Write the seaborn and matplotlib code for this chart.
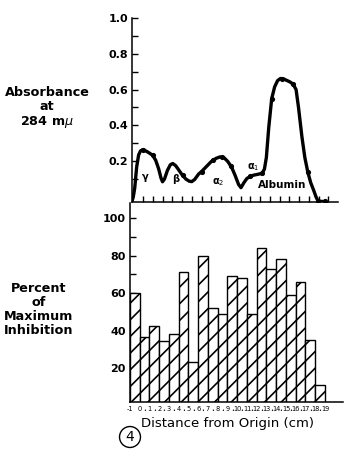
import numpy as np
import pandas as pd
import matplotlib
matplotlib.use("Agg")
import matplotlib.pyplot as plt
import seaborn as sns

# ---------------- data ----------------
abs_x = [-1.15, -1.0, -0.85, -0.65, -0.45, -0.25, 0.0, 0.4, 0.75, 1.0, 1.3, 1.6, 1.85, 2.0,
         2.2, 2.5, 2.8, 3.05, 3.35, 3.65, 4.0, 4.4, 4.75, 5.0, 5.3, 5.7, 6.0, 6.5, 7.0, 7.5,
         7.9, 8.3, 8.7, 9.1, 9.45, 9.8, 10.05, 10.35, 10.65, 11.0, 11.35, 11.8, 12.2, 12.45,
         12.65, 12.9, 13.2, 13.5, 13.8, 14.1, 14.4, 14.8, 15.1, 15.4, 15.7, 15.95, 16.3, 16.6,
         16.9, 17.2, 17.5, 17.75, 17.95, 18.3, 18.7]
abs_y = [-0.028, 0.0, 0.05, 0.168, 0.235, 0.258, 0.265, 0.254, 0.242, 0.232, 0.205, 0.158,
         0.105, 0.085, 0.1, 0.148, 0.18, 0.187, 0.175, 0.152, 0.125, 0.1, 0.088, 0.086, 0.098,
         0.128, 0.142, 0.17, 0.198, 0.216, 0.224, 0.22, 0.198, 0.165, 0.12, 0.07, 0.052, 0.08,
         0.103, 0.115, 0.122, 0.127, 0.132, 0.155, 0.22, 0.39, 0.55, 0.615, 0.65, 0.662, 0.66,
         0.65, 0.642, 0.63, 0.6, 0.5, 0.336, 0.22, 0.14, 0.08, 0.038, 0.0, -0.022, -0.025, -0.025]

mark_x = [0.0, 1.0, 4.05, 6.0, 7.2, 8.1, 9.0, 11.0, 12.2, 13.2, 14.3, 15.4, 16.9, 17.9, 18.7]
mark_y = [0.265, 0.232, 0.124, 0.142, 0.205, 0.224, 0.175, 0.115, 0.132, 0.55, 0.66, 0.63, 0.14, -0.02, -0.025]

peak_labels = ["γ", "β", "α$_2$", "α$_1$", "Albumin"]
peak_x = [0.25, 3.4, 7.75, 11.3, 14.3]
peak_y = [0.11, 0.1, 0.085, 0.165, 0.065]

bar_left = list(range(-1, 19))
inhibition = [60, 36.5, 42.5, 34.5, 38, 71, 23, 79.5, 52, 49, 69, 68, 49, 84, 73, 78, 59, 66, 35, 11]

top_ticks = list(range(0, 20))
bottom_ticks = list(range(-1, 20))

# ---------------- style ----------------
sns.set_style("ticks", {"axes.edgecolor": "black", "text.color": "black",
                        "xtick.color": "black", "ytick.color": "black",
                        "axes.labelcolor": "black"})
plt.rcParams["font.family"] = ["DejaVu Sans"]
plt.rcParams["hatch.linewidth"] = 1.2
plt.rcParams["axes.linewidth"] = 1.1

W, H = 344, 462
fig = plt.figure(figsize=(W / 100, H / 100), dpi=100)
fig.patch.set_facecolor("white")

ax1 = fig.add_axes([132 / W, 1 - 202 / H, 206 / W, 184 / H])
ax2 = fig.add_axes([130 / W, 1 - 402 / H, 213 / W, 199 / H])

# ---------------- top: absorbance ----------------
df_curve = pd.DataFrame({"x": abs_x, "y": abs_y})
sns.lineplot(data=df_curve, x="x", y="y", ax=ax1, color="black", lw=2.4, sort=False,
             estimator=None)
df_mark = pd.DataFrame({"x": mark_x, "y": mark_y})
sns.scatterplot(data=df_mark, x="x", y="y", ax=ax1, color="black", s=14, edgecolor="black",
                linewidth=0, zorder=5, clip_on=False)

for lab, px, py in zip(peak_labels, peak_x, peak_y):
    ax1.text(px, py, lab, ha="center", va="center", fontsize=7.5 if lab == "Albumin" else 7,
             fontweight="bold", color="black")

ax1.set_xlim(-1.13, 20.0)
ax1.set_ylim(-0.028, 1.0)
ax1.set_yticks([0.2, 0.4, 0.6, 0.8, 1.0])
ax1.set_yticklabels(["0.2", "0.4", "0.6", "0.8", "1.0"])
ax1.set_yticks(np.arange(0.1, 1.0, 0.2), minor=True)
ax1.tick_params(axis="y", which="both", direction="in", length=4, width=1.0, labelsize=8, pad=3)
for t in ax1.get_yticklabels():
    t.set_fontweight("bold")
ax1.set_xticks(top_ticks)
ax1.set_xticklabels([str(v) for v in top_ticks])
ax1.set_xticks([v + 0.5 for v in top_ticks[:-1]], minor=True)
ax1.set_xticklabels(["•"] * (len(top_ticks) - 1), minor=True)
ax1.tick_params(axis="x", which="major", direction="in", length=4, width=1.0, labelsize=4.8, pad=2.5)
ax1.tick_params(axis="x", which="minor", length=0, labelsize=3.5, pad=3.5)
ax1.set_xlabel("")
ax1.set_ylabel("")
sns.despine(ax=ax1)

# ---------------- bottom: inhibition ----------------
df_bar = pd.DataFrame({"x": [v + 0.5 for v in bar_left], "y": inhibition})
sns.barplot(data=df_bar, x="x", y="y", ax=ax2, native_scale=True, width=1.0,
            color="white", edgecolor="black", linewidth=1.0, errorbar=None)
for p in ax2.patches:
    p.set_hatch("//")
    p.set_facecolor("white")
    p.set_edgecolor("black")

ax2.set_xlim(-1, 20.85)
ax2.set_ylim(1.9, 108)
ax2.set_yticks([20, 40, 60, 80, 100])
ax2.set_yticklabels(["20", "40", "60", "80", "100"])
ax2.set_yticks(np.arange(10, 101, 20), minor=True)
ax2.tick_params(axis="y", which="both", direction="in", length=4, width=1.0, labelsize=8, pad=3)
for t in ax2.get_yticklabels():
    t.set_fontweight("bold")
ax2.set_xticks(bottom_ticks)
ax2.set_xticklabels([str(v) for v in bottom_ticks])
ax2.set_xticks([v + 0.5 for v in bottom_ticks[1:-1]], minor=True)
ax2.set_xticklabels(["•"] * (len(bottom_ticks) - 2), minor=True)
ax2.tick_params(axis="x", which="major", length=0, labelsize=4.8, pad=3)
ax2.tick_params(axis="x", which="minor", length=0, labelsize=3.5, pad=4)
ax2.set_xlabel("")
ax2.set_ylabel("")
sns.despine(ax=ax2)

# ---------------- texts ----------------
fig.text(47 / W, 1 - 108 / H, "Absorbance\nat\n284 m$\\mu$", ha="center", va="center",
         fontsize=9.2, fontweight="bold", linespacing=1.05, color="black")
fig.text(39 / W, 1 - 309 / H, "Percent\nof\nMaximum\nInhibition", ha="center", va="center",
         fontsize=9.2, fontweight="bold", linespacing=1.1, color="black")
fig.text(228 / W, 1 - 424 / H, "Distance from Origin (cm)", ha="center", va="center",
         fontsize=9.5, color="black")
fig.text(130 / W, 1 - 437 / H, "4", ha="center", va="center", fontsize=10, color="black",
         bbox=dict(boxstyle="circle,pad=0.25", fc="none", ec="black", lw=1.0))

fig.savefig("out.png", dpi=100, facecolor="white")
